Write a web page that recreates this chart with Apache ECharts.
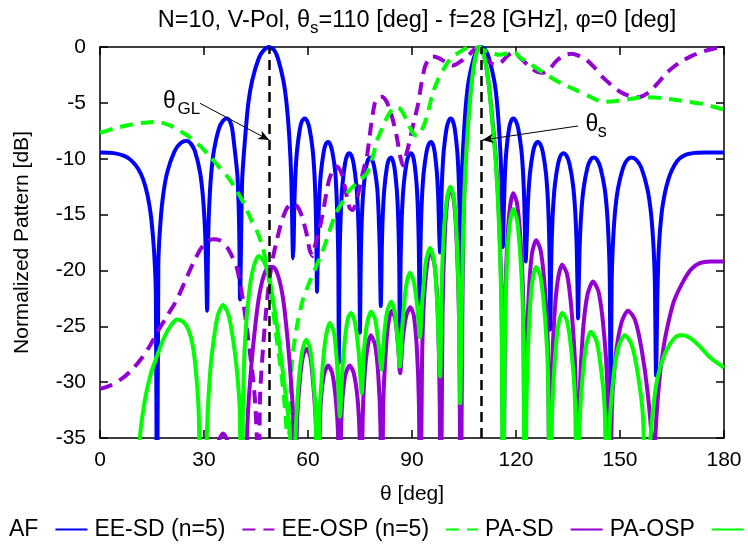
<!DOCTYPE html>
<html><head><meta charset="utf-8">
<script src="https://cdn.jsdelivr.net/npm/echarts@6/dist/echarts.min.js"></script>
<style>html,body{margin:0;padding:0;background:#fff}#c{width:748px;height:550px}</style>
</head><body><div id="c"></div>
<script>
// ---- data: [theta (deg), normalized pattern (dB)] ----
const AF = [
[0,-9.45],[4,-9.5],[7,-9.75],[9,-10.15],[11,-10.9],[12.5,-11.9],[13.8,-13.4],[14.8,-15.4],[15.6,-18.3],[16.1,-22],[16.45,-45],
[16.83,-19.5],[17.26,-16.5],[18.12,-13.5],[19.4,-11.2],[21.56,-9.3],[23.3,-8.6],[25,-8.4],[26.2,-8.65],[27.36,-9.3],[28.84,-11.2],[29.72,-13.5],[30.31,-16.5],[30.6,-19.5],[30.9,-23.6],
[31.19,-17.5],[31.47,-14.5],[32.04,-11.5],[32.9,-9.2],[34.3,-7.3],[35.5,-6.6],[36.6,-6.4],[37.4,-6.6],[38.12,-7.3],[38.87,-9.2],[39.64,-11.5],[40.02,-14.5],[40.21,-17.5],[40.4,-22.6],
[41.0,-12],[41.9,-8],[42.8,-5],[43.9,-3],[45.8,-1],[47.2,-0.3],[48.8,0],[50.3,-0.3],[51.3,-1],[52.9,-3],[53.8,-5],[54.6,-8],[55.2,-12],[55.7,-18.9],
[55.87,-17.5],[56.03,-14.5],[56.36,-11.5],[56.86,-9.2],[57.68,-7.3],[58.3,-6.6],[59.0,-6.4],[59.7,-6.6],[60.44,-7.3],[61.34,-9.2],[61.88,-11.5],[62.24,-14.5],[62.42,-17.5],[62.6,-21.9],
[62.76,-19.6],[62.92,-16.6],[63.24,-13.6],[63.72,-11.3],[64.52,-9.4],[65.1,-8.7],[65.8,-8.5],[66.4,-8.7],[67.04,-9.4],[67.89,-11.3],[68.28,-13.6],[68.59,-16.6],[68.75,-19.6],[68.9,-28.3],
[69.05,-20.6],[69.2,-17.6],[69.5,-14.6],[69.95,-12.3],[70.7,-10.4],[71.3,-9.7],[71.9,-9.5],[72.5,-9.7],[73.14,-10.4],[73.92,-12.3],[74.38,-14.6],[74.69,-17.6],[74.85,-20.6],[75.0,-25.6],
[75.15,-21],[75.29,-18],[75.58,-15],[76.02,-12.7],[76.74,-10.8],[77.3,-10.1],[77.9,-9.9],[78.5,-10.1],[79.14,-10.8],[79.99,-12.7],[80.38,-15],[80.69,-18],[80.85,-21],[81.0,-23.2],
[81.15,-21],[81.29,-18],[81.58,-15],[82.02,-12.7],[82.74,-10.8],[83.3,-10.1],[83.9,-9.9],[84.4,-10.1],[84.94,-10.8],[85.59,-12.7],[85.98,-15],[86.24,-18],[86.37,-21],[86.5,-29],
[86.66,-20.6],[86.82,-17.6],[87.14,-14.6],[87.62,-12.3],[88.42,-10.4],[89.05,-9.7],[89.7,-9.5],[90.2,-9.7],[90.7,-10.4],[91.33,-12.3],[91.7,-14.6],[91.95,-17.6],[92.08,-20.6],[92.2,-23],
[92.37,-19.6],[92.53,-16.6],[92.86,-13.6],[93.36,-11.3],[94.18,-9.4],[94.85,-8.7],[95.5,-8.5],[96.0,-8.7],[96.54,-9.4],[97.19,-11.3],[97.58,-13.6],[97.84,-16.6],[98.1,-18.4],
[98.26,-17.5],[98.41,-14.5],[98.72,-11.5],[99.19,-9.2],[99.96,-7.3],[100.6,-6.6],[101.2,-6.4],[101.75,-6.6],[102.32,-7.3],[103.02,-9.2],[103.44,-11.5],[103.72,-14.5],[103.86,-17.5],[104.0,-33],
[104.37,-12],[104.93,-8],[105.59,-5],[106.36,-3],[107.8,-1],[108.76,-0.3],[110,0],[111.25,-0.3],[112.2,-1],[113.72,-3],[114.53,-5],[115.24,-8],[115.84,-12],[116.2,-17.9],
[116.5,-14.5],[116.8,-11.5],[117.25,-9.2],[118.0,-7.3],[118.6,-6.6],[119.2,-6.4],[119.9,-6.6],[120.64,-7.3],[121.54,-9.2],[122.08,-11.5],[122.44,-14.5],[122.62,-17.5],[122.8,-19.2],
[123.15,-16.6],[123.5,-13.6],[124.03,-11.3],[124.9,-9.4],[125.6,-8.7],[126.3,-8.5],[127.0,-8.7],[127.74,-9.4],[128.64,-11.3],[129.18,-13.6],[129.54,-16.6],[129.72,-19.6],[129.9,-25.3],
[130.09,-20.6],[130.28,-17.6],[130.66,-14.6],[131.23,-12.3],[132.18,-10.4],[132.9,-9.7],[133.7,-9.5],[134.5,-9.7],[135.38,-10.4],[136.43,-12.3],[137.06,-14.6],[137.48,-17.6],[137.69,-20.6],[137.9,-24.3],
[138.13,-21],[138.35,-18],[138.8,-15],[139.48,-12.7],[140.6,-10.8],[141.5,-10.1],[142.4,-9.9],[143.4,-10.1],[144.36,-10.8],[145.59,-12.7],[146.32,-15],[146.81,-18],[147.06,-21],[147.3,-32.3],
[147.6,-21],[147.9,-18],[148.5,-15],[149.4,-12.7],[150.9,-10.8],[152.1,-10.1],[153.3,-9.9],[154.7,-10.1],[156.14,-10.8],[157.9,-12.7],[158.98,-15],[159.69,-18],[160.05,-21],[160.4,-29.4],
[160.8,-22],[161.2,-18],[162,-14.9],[163,-13],[164,-11.8],[165,-11],[166.5,-10.2],[168,-9.8],[170,-9.55],[175,-9.45],[180,-9.45]
];
const EE_SD = [
[0,-30.6],[3,-30.3],[6.7,-29.6],[9.5,-28.8],[12.4,-27.7],[14.5,-26.7],[16.4,-25.6],[19.5,-24],[22.2,-22.6],[24.5,-21],[26.8,-19.4],[29,-18.1],[31,-17.4],[32.6,-17.2],[34.5,-17.3],[36.6,-17.9],[38.2,-18.8],[39.5,-19.8],[40.6,-21.5],[41.5,-23.2],[42.5,-25.5],[43.3,-27.5],[44.1,-29.5],[44.8,-32],[45.4,-36],[45.8,-37],
[46.2,-31],[46.9,-27.5],[47.8,-24],[48.8,-21],[49.8,-19],[51,-17.3],[52.5,-15.5],[54,-14.4],[55.5,-14],[57,-14.3],[58.3,-15.2],[59.5,-16.6],[60.5,-18.2],[61.3,-18.7],[62,-17.8],[63,-16.7],[64,-15.3],[65,-13.6],[66,-12],[67.2,-11],[68.4,-10.7],[69.7,-11.3],[70.8,-12.8],[72,-14.4],[72.8,-14.6],[73.6,-14.2],[74.6,-13],[76,-11],[77,-9.8],[78.2,-7],[79.3,-5],[80.3,-4.5],[81.3,-4.45],[82.5,-4.8],[83.6,-5.6],[84.7,-6.8],[85.7,-8.2],[86.6,-9.8],[87.4,-10.6],[88.3,-9.7],[89.4,-8.3],[90.6,-6.6],[91.7,-5.2],[92.7,-3.3],[93.7,-1.8],[94.8,-1.1],[96,-0.85],[97.4,-0.95],[98.9,-1.2],[100.3,-1.5],[101.8,-1.65],[103.5,-1.4],[105.8,-0.9],[107.5,-0.35],[108.7,-0.1],[110,-0.4],[111.6,-1.1],[113,-1.5],[114.5,-1.6],[116,-1.3],[117.5,-0.8],[119.2,-0.5],[120.3,-0.7],[122,-1.2],[124,-1.8],[126,-2.2],[127.8,-2.3],[129.8,-1.9],[131.8,-1.2],[133.8,-0.75],[136,-0.6],[138.2,-0.8],[140.5,-1.2],[142.8,-1.9],[145,-2.7],[147.5,-3.4],[150,-4],[152.5,-4.35],[154.9,-4.5],[156.8,-4.35],[158.6,-4],[161,-3.2],[163.5,-2.3],[165.8,-1.7],[168.2,-1.2],[171,-0.75],[174,-0.4],[177,-0.15],[180,0]
];
const EE_OSP = [
[0,-7.7],[4,-7.3],[8,-7.0],[12,-6.8],[16.4,-6.7],[20,-7.0],[23,-7.5],[26,-8.1],[29,-8.9],[31.7,-9.8],[34.5,-10.8],[37.5,-11.9],[39.5,-12.9],[41.5,-14],[43.8,-15.6],[45.3,-16.5],[47,-18],[48.3,-20],[49.3,-22],[50.2,-24.2],[51,-26.2],[51.8,-28],[52.6,-30],[53.4,-32.5],[54.1,-34.8],[54.6,-34.6],[55.0,-31],[55.4,-28],[56.8,-25],[58.6,-22.5],[60.5,-21],[62,-19.9],[63.5,-18.8],[65,-17.6],[66.5,-16.2],[68,-14.9],[70.1,-13.8],[71.5,-13],[73,-12.5],[75,-11.9],[77,-11.3],[78.5,-10],[80,-8.3],[81.5,-7.2],[82.8,-6.3],[84,-5.7],[85.1,-5.4],[86,-5.4],[87,-5.7],[88.2,-6.4],[89.4,-7.2],[90.5,-7.8],[91.4,-7.95],[92.5,-7.6],[93.7,-6.8],[94.8,-5.6],[96,-4.1],[97.4,-3],[98.9,-2.1],[100.5,-1.3],[102,-0.8],[103.5,-0.5],[105,-0.2],[106.7,0],[108.5,-0.05],[110,-0.2],[111.6,-0.4],[113.5,-0.6],[115.4,-0.7],[117,-0.6],[118.5,-0.45],[119.6,-0.45],[121,-0.9],[124,-1.5],[127.8,-2.3],[131,-2.9],[134,-3.4],[137.6,-3.9],[141,-4.4],[145,-4.9],[148.5,-4.85],[152,-4.7],[156.7,-4.5],[161,-4.55],[166.4,-4.75],[170,-4.9],[174,-5.1],[177,-5.35],[180,-5.6]
];
const PA_SD = [
[0,-50],[31,-45],[33.5,-36],[35.5,-34.6],[37.5,-36],[40,-45],[41.8,-45],
[42.5,-34],[43.4,-29.5],[44.6,-25.5],[45.8,-22.5],[47.2,-20.5],[48.7,-19.7],[50.0,-19.7],[51.4,-20.5],[52.8,-22.5],[54.0,-25.8],[55,-29.5],[55.7,-33],[56.2,-45],
[56.8,-34],[57.6,-30],[58.6,-27.6],[59.7,-27],[60.7,-27.8],[61.6,-30.5],[62.3,-34],[62.8,-45],
[63.5,-33],[64.5,-29.5],[65.8,-28.5],[67,-29.2],[68,-31.5],[68.7,-35],[69.1,-45],
[69.6,-33.5],[70.6,-29.6],[72.0,-28.5],[73.2,-29.2],[74.3,-31.5],[74.9,-35],[75.3,-45],
[75.8,-33],[76.7,-28],[78.1,-25.8],[79.3,-26.6],[80.3,-29.5],[80.9,-34],[81.2,-45],
[81.7,-32],[82.6,-26.5],[83.4,-24.3],[84.2,-23.6],[85.2,-24.4],[86.0,-26.8],[86.6,-29.2],
[87.3,-26.3],[88.3,-24.1],[89.5,-23.3],[90.5,-24],[91.4,-27],[92,-32],[92.4,-45],
[92.9,-28],[93.7,-21.5],[95.2,-18.2],[96.5,-19.5],[97.4,-23.5],[98.0,-32],[98.3,-45],
[98.8,-24],[99.5,-16.5],[100.3,-13.5],[101.1,-12.7],[102.1,-13.8],[102.9,-17.5],[103.6,-25],[104.1,-45],
[104.4,-28],[104.8,-16.5],[105.3,-11],[106.2,-6.5],[107.2,-3],[108.3,-0.8],[109.5,0],[110.8,-0.8],[112,-3],[113.2,-6.5],[114.3,-10.5],[115.2,-16],[115.9,-24],[116.4,-45],
[116.8,-24],[117.4,-18],[118.2,-14.5],[119.2,-13.1],[120.3,-14],[121.3,-17.3],[122.1,-23],[122.6,-45],
[123,-28],[123.7,-22],[124.6,-18.5],[125.8,-17.3],[127.1,-18.2],[128.3,-21.5],[129.2,-27],[129.8,-45],
[130.3,-30],[131,-24.5],[132,-21],[133.3,-19.5],[134.7,-20.3],[136,-23.5],[137.1,-29],[137.8,-45],
[138.4,-31],[139.3,-25.5],[140.6,-22.2],[142.2,-21],[143.8,-21.9],[145.2,-25],[146.3,-30],[147,-45],
[147.7,-32],[148.9,-27.3],[150.5,-24.6],[152.3,-23.6],[154.3,-24.4],[156.2,-27],[158,-31],[159.3,-36],[159.7,-45],
[160.2,-35],[161.3,-30],[162.5,-27],[163.5,-25.3],[165.5,-22.8],[168.2,-21],[170.5,-19.9],[173,-19.35],[176,-19.2],[180,-19.2]
];
const PA_OSP = [
[0,-50],[9.5,-45],[11.5,-35],[13,-31.5],[14.7,-29.2],[16.4,-27.7],[18.5,-26],[20.5,-24.9],[22.2,-24.4],[24,-24.6],[25.5,-25.3],[26.8,-26.8],[27.8,-29.5],[28.5,-33],[29.2,-45],
[29.8,-45],[30.9,-34],[31.8,-29],[32.8,-26.2],[34,-24],[35.5,-23.1],[37,-23.9],[38.4,-26.2],[39.5,-29],[40.3,-32.5],[40.8,-45],
[41.2,-33],[41.8,-26.5],[43.0,-22],[44.3,-19.7],[45.8,-18.7],[47.3,-19.2],[48.7,-20.5],[50,-22.8],[51.2,-25.3],[52.5,-28.5],[53.8,-31.8],[54.8,-34.5],[55.4,-45],
[55.9,-40],[56.5,-34],[57.3,-30],[58.3,-27.3],[59.5,-26.2],[60.6,-27],[61.5,-29.5],[62.2,-33],[62.8,-45],
[63.3,-33],[64,-29.5],[65,-26.2],[66.3,-24.7],[67.5,-25.6],[68.4,-28.5],[69.2,-33.1],
[69.9,-29],[70.7,-26],[71.5,-24.3],[72.4,-23.8],[73.5,-24.6],[74.6,-27.3],[75.5,-31],
[76.1,-27.5],[76.9,-25],[78.2,-23.7],[79.4,-24.4],[80.4,-26.8],[81.2,-28.9],
[81.9,-26],[82.8,-23.7],[84.0,-22.8],[85.0,-23.7],[85.8,-26],[86.5,-28.6],
[87.2,-25],[88.2,-21.6],[89.4,-20.2],[90.5,-21],[91.5,-23.2],[92.3,-26],
[93.0,-22.5],[94,-19.2],[95.2,-18],[96.3,-19],[97.2,-22.5],[98.1,-29.5],
[98.6,-21],[99.3,-16],[100.2,-13.3],[101.1,-12.5],[102.1,-13.6],[102.9,-17],[103.5,-23],[103.9,-31.9],
[104.3,-24],[104.8,-16],[105.4,-11],[106.3,-6.5],[107.3,-3],[108.4,-0.8],[109.6,0],[110.8,-0.8],[112,-3],[113.1,-6.5],[114.2,-10.5],[115.1,-16],[115.8,-24],[116.3,-45],
[116.7,-28],[117.3,-20],[118.1,-16],[119.2,-14.5],[120.3,-15.5],[121.3,-19],[122,-24],[122.6,-45],
[123,-32],[123.6,-26],[124.5,-21.5],[125.8,-19.7],[127.1,-20.6],[128.3,-24],[129.2,-29],[129.8,-45],
[130.3,-34],[131,-29],[132,-25.3],[133.3,-23.8],[134.7,-24.5],[136,-27.3],[137,-31.5],[137.7,-45],
[138.3,-34],[139.2,-29.5],[140.3,-26.6],[141.6,-25.5],[143.2,-26.3],[144.6,-29],[145.6,-32.5],[146.3,-45],
[147,-34],[148.2,-29.3],[149.6,-26.8],[151.4,-25.8],[153.3,-26.6],[155,-29],[156.6,-33],[157.8,-45],
[158.6,-36],[159.5,-32.5],[160.7,-29.8],[162.5,-27.8],[164.4,-26.6],[166.3,-25.9],[168.2,-25.8],[170.5,-26.1],[173,-26.8],[176,-27.8],[180,-28.7]
];
const SERIES_NAMES = ['AF', 'EE-SD (n=5)', 'EE-OSP (n=5)', 'PA-SD', 'PA-OSP'];
const THETA_GL = 48.8;   // grating lobe direction (deg)
const THETA_S = 110;     // scan direction (deg)
const X_TICKS = {min: 0, max: 180, step: 30};
const Y_TICKS = {min: -35, max: 0, step: 5};

// ---- styling / layout ----
const FONT = '"Liberation Sans", Arial, Helvetica, sans-serif';
const BLUE = '#0000ff', PURPLE = '#9400d3', GREEN = '#00ff00';
const DASH = [13, 8];

const chart = echarts.init(document.getElementById('c'), null, {renderer: 'canvas'});

const axisBase = {
  axisLine: {show: true, onZero: false, lineStyle: {color: '#000', width: 1.5}},
  axisTick: {show: true, inside: true, length: 8, lineStyle: {color: '#000', width: 1.5}},
  splitLine: {show: false}
};
const labelStyle = {color: '#000', fontSize: 21, fontFamily: FONT};

function lineSeries(name, data, color, dashed) {
  return {
    name, type: 'line', data, showSymbol: false, symbol: 'none', smooth: 0.25,
    clip: true, animation: false,
    lineStyle: {color, width: 4, type: dashed ? DASH : 'solid'},
    itemStyle: {color}
  };
}

const option = {
  animation: false,
  backgroundColor: '#fff',
  title: {
    text: '{a|N=10, V-Pol, θ}{b|s}{a|=110 [deg] - f=28 [GHz], φ=0 [deg]}',
    left: 412, top: 0, textAlign: 'center',
    textStyle: {fontWeight: 'normal', rich: {
      a: {fontSize: 23.5, fontWeight: 'normal', fontFamily: FONT, color: '#000', lineHeight: 32},
      b: {fontSize: 17, fontWeight: 'normal', fontFamily: FONT, color: '#000', lineHeight: 17, verticalAlign: 'bottom'}
    }}
  },
  grid: {left: 100, right: 24, top: 47, bottom: 112, containLabel: false},
  legend: {
    data: SERIES_NAMES, left: 4, top: 513, width: 900, align: 'right',
    itemWidth: 32, itemHeight: 14, itemGap: 6,
    itemStyle: {opacity: 0},
    textStyle: {color: '#000', fontSize: 23, fontFamily: FONT, padding: [0, 12, 0, 0]}
  },
  xAxis: [
    Object.assign({type: 'value', min: X_TICKS.min, max: X_TICKS.max, interval: X_TICKS.step, position: 'bottom',
      axisLabel: Object.assign({margin: 12}, labelStyle),
      name: 'θ [deg]', nameLocation: 'middle', nameGap: 46, nameTextStyle: labelStyle}, axisBase),
    Object.assign({type: 'value', min: X_TICKS.min, max: X_TICKS.max, interval: X_TICKS.step, position: 'top',
      axisLabel: {show: false}}, axisBase)
  ],
  yAxis: [
    Object.assign({type: 'value', min: Y_TICKS.min, max: Y_TICKS.max, interval: Y_TICKS.step, position: 'left',
      axisLabel: Object.assign({margin: 14}, labelStyle),
      name: 'Normalized Pattern [dB]', nameLocation: 'middle', nameGap: 67, nameRotate: 90, nameTextStyle: labelStyle}, axisBase),
    Object.assign({type: 'value', min: Y_TICKS.min, max: Y_TICKS.max, interval: Y_TICKS.step, position: 'right',
      axisLabel: {show: false}}, axisBase)
  ],
  series: [
    lineSeries(SERIES_NAMES[0], AF, BLUE, false),
    lineSeries(SERIES_NAMES[1], EE_SD, PURPLE, true),
    lineSeries(SERIES_NAMES[2], EE_OSP, GREEN, true),
    lineSeries(SERIES_NAMES[3], PA_SD, PURPLE, false),
    lineSeries(SERIES_NAMES[4], PA_OSP, GREEN, false),
    {
      name: 'annot', type: 'scatter', symbol: 'circle', symbolSize: 2, silent: true, animation: false,
      itemStyle: {color: 'rgba(0,0,0,0)'},
      labelLayout: {hideOverlap: false},
      label: {show: true, position: 'inside', color: '#000', fontFamily: FONT, opacity: 1, formatter: p => p.name},
      data: [
        {name: 'θ', value: [20.05, -4.9], label: {fontSize: 23}},
        {name: 'GL', value: [25.6, -5.57], label: {fontSize: 17}},
        {name: 'θ', value: [141.9, -6.91], label: {fontSize: 23}},
        {name: 's', value: [144.9, -7.58], label: {fontSize: 18}}
      ],
      markLine: {
        silent: true, animation: false, symbol: ['none', 'none'], label: {show: false},
        lineStyle: {color: '#000', width: 2.5, type: [10, 6]},
        data: [
          {xAxis: THETA_GL},
          {xAxis: THETA_S},
          [{coord: [28.85, -5.04], symbol: 'none', lineStyle: {color: '#000', width: 1, type: 'solid'}},
           {coord: [THETA_GL, -8.33], symbol: 'arrow', symbolSize: [7, 11], lineStyle: {color: '#000', width: 1, type: 'solid'}}],
          [{coord: [137.9, -7.07], symbol: 'none', lineStyle: {color: '#000', width: 1, type: 'solid'}},
           {coord: [THETA_S + 0.3, -8.33], symbol: 'arrow', symbolSize: [7, 11], lineStyle: {color: '#000', width: 1, type: 'solid'}}]
        ]
      }
    }
  ]
};
chart.setOption(option);
</script></body></html>
